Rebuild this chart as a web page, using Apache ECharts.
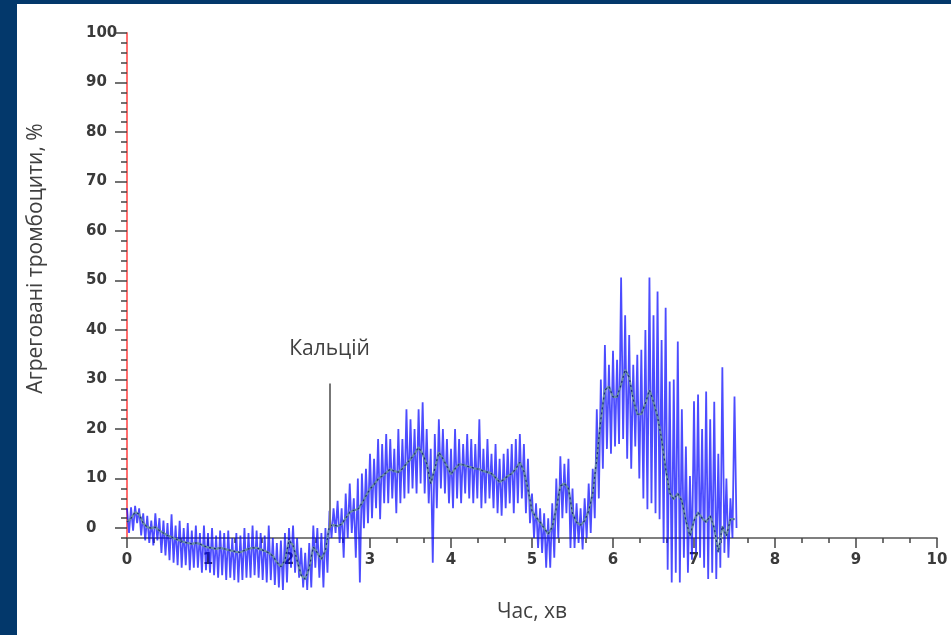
<!DOCTYPE html>
<html>
<head>
<meta charset="utf-8">
<script src="https://cdn.jsdelivr.net/npm/echarts/dist/echarts.min.js"></script>
<style>
  html, body { margin: 0; padding: 0; width: 951px; height: 635px; background: #03386b; overflow: hidden; }
  #chart { position: absolute; left: 17px; top: 4px; width: 934px; height: 631px; background: #ffffff; }
</style>
</head>
<body>
<div id="chart"></div>
<script>
// Sampling step of the trace (minutes)
const sampleStep = 0.05;

// Smoothed (mean) trace, % aggregated platelets, from t = 0 to 7.5 min
const meanPct = [
  1.2, 2.0, 3.2, 2.8, 1.0, 0.2, 0.0, 0.2, -0.5, -1.0,
  -1.5, -1.8, -2.2, -2.5, -2.8, -3.0, -3.2, -3.0, -3.2, -3.6,
  -3.9, -4.0, -4.2, -4.0, -4.2, -4.4, -4.6, -4.8, -4.9, -4.5,
  -4.2, -4.0, -4.0, -4.3, -4.6, -5.0, -5.6, -6.9, -7.8, -6.5,
  -2.5, -3.5, -6.5, -9.5, -10.3, -8.0, -3.8, -5.0, -6.3, -4.5,
  0.5, 0.6, 0.4, 0.8, 2.0, 3.2, 3.6, 3.8, 5.0, 6.5,
  7.9, 8.8, 9.9, 10.5, 11.2, 11.9, 11.5, 11.3, 12.0, 13.0,
  13.9, 15.0, 16.3, 15.0, 13.0, 9.0, 12.0, 15.3, 14.0, 12.5,
  10.9, 12.0, 12.9, 12.8, 12.5, 12.3, 12.0, 11.9, 11.5, 11.3,
  11.0, 10.2, 9.3, 9.8, 10.5, 11.0, 12.0, 13.3, 11.5, 7.9,
  3.5, 2.2, 1.2, 0.0, -1.2, 0.2, 4.0, 8.5, 9.0, 8.0,
  3.0, 1.2, 0.6, 1.5, 3.5, 7.0, 14.0, 22.0, 27.9, 28.6,
  26.5, 26.5, 29.0, 32.0, 30.5, 26.0, 23.0, 23.0, 25.2, 27.9,
  25.5, 22.5, 18.0, 12.0, 7.1, 5.8, 7.0, 5.5, 1.5, -1.6,
  1.5, 3.2, 2.0, 1.2, 2.5, 0.0, -4.9, 0.4, -1.6, 1.8,
  1.8
];

// Upper peaks of the raw (noisy) trace
const highPct = [
  4.0, 4.2, 4.5, 4.0, 3.0, 2.5, 1.5, 3.0, 2.0, 1.5,
  1.0, 2.8, 0.5, 1.5, 0.0, 1.0, -0.5, 0.5, -1.0, 0.5,
  -1.0, 0.0, -1.5, -0.5, -1.0, -0.5, -2.0, -1.0, -1.5, 0.0,
  -1.0, 0.5, -0.5, -1.0, -1.5, 0.5, -2.0, -3.0, -2.5, -1.0,
  0.0, 0.5, -2.0, -4.0, -5.0, -3.0, 0.5, 0.0, -1.0, 0.0,
  3.5, 4.0, 5.5, 4.0, 7.0, 9.0, 6.0, 10.0, 11.0, 12.0,
  15.0, 14.0, 18.0, 17.0, 19.0, 18.0, 16.0, 20.0, 18.0, 24.0,
  22.0, 20.0, 24.0, 25.4, 20.0, 16.0, 19.0, 22.0, 20.0, 18.0,
  16.0, 20.0, 18.0, 17.0, 19.0, 18.0, 17.0, 22.0, 16.0, 18.0,
  15.0, 17.0, 14.0, 15.0, 16.0, 17.0, 18.0, 19.0, 17.0, 14.0,
  7.0, 5.0, 4.0, 3.0, 2.0, 5.0, 10.0, 14.5, 13.0, 14.0,
  8.0, 5.0, 4.0, 6.0, 9.0, 12.0, 24.0, 30.0, 37.0, 33.0,
  35.8, 34.0, 50.6, 43.0, 39.0, 33.0, 35.0, 36.0, 40.0, 50.6,
  43.0, 47.8, 38.0, 44.5, 29.6, 30.0, 37.7, 24.0, 16.5, 10.5,
  25.6, 27.0, 20.0, 27.6, 22.0, 25.5, 15.0, 32.5, 10.0, 6.0,
  26.6
];

// Lower troughs of the raw (noisy) trace
const lowPct = [
  -1.0, -0.5, 1.0, -1.5, -2.5, -3.0, -3.5, -2.5, -5.0, -5.5,
  -6.5, -7.0, -7.5, -8.0, -7.5, -8.5, -8.0, -8.0, -9.0, -8.5,
  -9.0, -9.5, -10.0, -9.5, -10.5, -10.0, -10.5, -11.0, -10.5, -10.0,
  -10.0, -9.5, -10.0, -10.5, -11.0, -10.5, -11.5, -12.0, -12.5, -11.0,
  -8.0, -9.0, -10.0, -12.0, -12.5, -12.0, -8.0, -10.0, -12.0, -9.0,
  -2.0, -1.0, -3.0, -6.0, -2.0, -1.0, -6.0, -11.0, 0.0, 1.0,
  2.0, 4.0, 1.8, 5.0, 5.0, 6.0, 3.0, 5.0, 6.0, 7.0,
  8.0, 7.0, 9.0, 7.0, 5.0, -7.0, 4.0, 8.0, 7.0, 5.0,
  4.0, 6.0, 5.0, 7.0, 6.0, 5.0, 6.0, 4.0, 5.0, 6.0,
  4.0, 3.0, 2.5, 4.0, 5.0, 3.0, 5.0, 6.0, 3.0, 1.0,
  -2.0, -4.0, -5.0, -8.0, -8.0, -6.0, -2.0, 2.0, 3.0, -4.0,
  -4.0, -3.0, -4.3, -2.0, -1.0, 2.0, 6.0, 12.0, 16.0, 15.0,
  16.5, 17.0, 18.0, 14.0, 12.0, 16.5, 10.0, 6.0, 3.8, 5.0,
  3.0, 1.8, -3.0, -8.4, -11.0, -9.0, -11.0, -6.0, -9.0, -6.4,
  -5.0, -6.0, -8.0, -10.3, -9.0, -10.3, -8.0, -5.0, -6.0, -2.0,
  0.0
];

// Calcium addition marker
const calciumTime = 2.5;
const calciumMarkTop = 29.2;
const calciumLabel = 'Кальцій';

// Axis texts
const xAxisTitle = 'Час, хв';
const yAxisTitle = 'Агреговані тромбоцити, %';

// Build series data from the arrays
const meanData = meanPct.map((v, i) => [+(i * sampleStep).toFixed(3), v]);
const rawData = [];
for (let i = 0; i < highPct.length; i++) {
  const t = i * sampleStep;
  rawData.push([+t.toFixed(3), highPct[i]]);
  rawData.push([+(t + sampleStep / 2).toFixed(3), lowPct[i]]);
}

const labelFont = { fontFamily: 'DejaVu Sans', fontWeight: 'bold', fontSize: 15, color: '#3a3a3a' };
const titleFont = { fontFamily: 'Open Sans', fontSize: 21, color: '#404040' };

const chart = echarts.init(document.getElementById('chart'), null, { renderer: 'canvas' });
chart.setOption({
  animation: false,
  backgroundColor: '#ffffff',
  grid: [
    { left: 110, top: 29, width: 810, height: 505 },
    { left: 110, top: 29, width: 810, height: 495 }
  ],
  xAxis: [
    {
      type: 'value', gridIndex: 0, min: 0, max: 10, interval: 1,
      name: xAxisTitle, nameLocation: 'middle', nameGap: 64,
      nameTextStyle: titleFont,
      axisLine: { show: true, onZero: false, lineStyle: { color: '#555555', width: 1.5 } },
      axisTick: { show: true, length: 10, lineStyle: { color: '#444444', width: 1.5 } },
      minorTick: { show: true, splitNumber: 3, length: 5, lineStyle: { color: '#444444', width: 1.5 } },
      axisLabel: Object.assign({ margin: 15 }, labelFont),
      splitLine: { show: false }
    },
    {
      type: 'value', gridIndex: 1, min: 0, max: 10, show: false
    }
  ],
  yAxis: [
    {
      type: 'value', gridIndex: 0, min: -2, max: 100, interval: 2,
      axisLine: { show: true, lineStyle: { color: '#ff6f6f', width: 2 } },
      axisTick: { show: true, length: 6, lineStyle: { color: '#444444', width: 1.5 } },
      axisLabel: { show: false },
      splitLine: { show: false }
    },
    {
      type: 'value', gridIndex: 1, min: 0, max: 100, interval: 10,
      name: yAxisTitle, nameLocation: 'middle', nameGap: 80, nameRotate: 90,
      nameTextStyle: Object.assign({ padding: [0, 0, 0, 44] }, titleFont),
      axisLine: { show: false },
      axisTick: { show: true, length: 12, lineStyle: { color: '#444444', width: 1.5 } },
      axisLabel: Object.assign({ margin: 41, align: 'left' }, labelFont),
      splitLine: { show: false }
    }
  ],
  series: [
    {
      name: 'raw', type: 'line', xAxisIndex: 0, yAxisIndex: 0,
      data: rawData, showSymbol: false, symbol: 'none', clip: false,
      lineStyle: { color: 'rgba(0,0,255,0.7)', width: 1.8 },
      z: 2,
      markLine: {
        silent: true, symbol: 'none',
        lineStyle: { color: '#777777', width: 2, type: 'solid' },
        label: {
          show: true, position: 'end', formatter: calciumLabel, distance: 24,
          fontFamily: 'Open Sans', fontSize: 21, color: '#404040'
        },
        data: [[{ coord: [calciumTime, 0] }, { coord: [calciumTime, calciumMarkTop] }]]
      }
    },
    {
      name: 'mean', type: 'line', xAxisIndex: 0, yAxisIndex: 0,
      data: meanData, showSymbol: false, symbol: 'none', clip: false,
      lineStyle: { color: '#6a90a6', width: 2.2 },
      z: 3
    },
    {
      name: 'meanCore', type: 'line', xAxisIndex: 0, yAxisIndex: 0,
      data: meanData, showSymbol: false, symbol: 'none', clip: false,
      lineStyle: { color: 'rgba(0,0,120,0.75)', width: 1.2, type: [2, 3] },
      z: 4
    }
  ]
});
</script>
</body>
</html>
